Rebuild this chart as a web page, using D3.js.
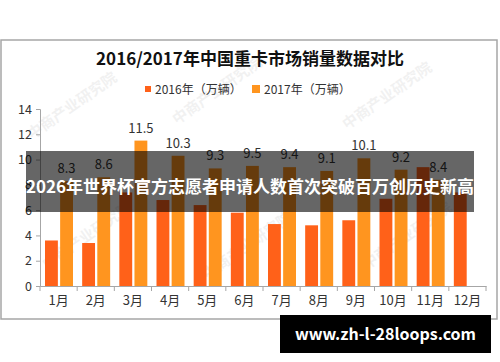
<!DOCTYPE html>
<html>
<head>
<meta charset="utf-8">
<script src="https://cdn.jsdelivr.net/npm/d3@7"></script>
<style>
  body { margin: 0; background: #fff; }
  text { font-family: "Noto Sans CJK SC", "Noto Sans", sans-serif; }
</style>
</head>
<body>
<div id="chart"></div>
<script>
// data
var months = ["1月","2月","3月","4月","5月","6月","7月","8月","9月","10月","11月","12月"];
var sales2016 = [3.6, 3.4, 7.4, 6.8, 6.4, 5.8, 4.9, 4.8, 5.2, 6.9, 9.4, 7.4];
var sales2017 = [8.3, 8.6, 11.5, 10.3, 9.3, 9.5, 9.4, 9.1, 10.1, 9.2, 8.4, null];
var seriesNames = ["2016年（万辆）", "2017年（万辆）"];
var yTicks = [0, 2, 4, 6, 8, 10, 12, 14];

var w = 500, h = 362;
var colors = ["#ff6119", "#ff951f"];

var svg = d3.select("#chart").append("svg")
    .attr("width", w)
    .attr("height", h);

// chart frame
svg.append("rect")
    .attr("x", 1).attr("y", 40)
    .attr("width", 496).attr("height", 279)
    .attr("fill", "#fff")
    .attr("stroke", "#a6a6a6")
    .attr("stroke-width", 1.5);

// faint watermarks
var marks = [[75,110],[220,95],[390,100],[90,240],[250,250],[410,240]];
svg.selectAll("text.wm")
    .data(marks)
    .enter().append("text")
    .attr("class","wm")
    .attr("transform", d => "translate(" + d[0] + "," + d[1] + ") rotate(-35)")
    .attr("text-anchor","middle")
    .attr("font-size", 15)
    .attr("font-weight","bold")
    .attr("fill", "#000")
    .attr("opacity", 0.05)
    .text("中商产业研究院");

svg.append("text")
    .attr("x", 250).attr("y", 65)
    .attr("text-anchor", "middle")
    .attr("font-size", 17)
    .attr("font-weight", "bold")
    .attr("fill", "#111")
    .text("2016/2017年中国重卡市场销量数据对比");

// legend
var legendX = [145, 252];
var lg = svg.selectAll("g.legend")
    .data(seriesNames)
    .enter().append("g")
    .attr("class","legend")
    .attr("transform", (d,i) => "translate(" + legendX[i] + ",89)");
lg.append("rect")
    .attr("x", 0).attr("y", (d,i) => i ? -4 : -3)
    .attr("width", (d,i) => i ? 8 : 6)
    .attr("height", (d,i) => i ? 8 : 6)
    .attr("fill", (d,i) => colors[i]);
lg.append("text")
    .attr("x", (d,i) => i ? 12 : 10)
    .attr("y", 5)
    .attr("font-size", 12)
    .attr("fill", "#333")
    .text(d => d);

var x0 = d3.scaleBand().domain(months).range([40, 486]);
var x1 = d3.scaleBand().domain([0, 1]).range([5, 33]).paddingInner(0.15);
var y = d3.scaleLinear().domain([0, 14]).range([286, 109]);

// y axis
var yAxis = svg.append("g")
    .attr("transform", "translate(40,0)")
    .call(d3.axisLeft(y).tickValues(yTicks).tickSize(4).tickPadding(4));
yAxis.select(".domain").attr("stroke", "#a6a6a6");
yAxis.selectAll(".tick line").attr("stroke", "#a6a6a6");
yAxis.selectAll(".tick text")
    .attr("font-size", 12.5)
    .attr("fill", "#333")
    .style("font-family", "'Noto Sans CJK SC', sans-serif");

// bars
var groups = svg.selectAll("g.month")
    .data(months)
    .enter().append("g")
    .attr("class", "month")
    .attr("transform", d => "translate(" + x0(d) + ",0)");

var series = [sales2016, sales2017];
groups.selectAll("rect")
    .data((d,i) => series.map((s,k) => ({k: k, v: s[i]})).filter(e => e.v != null))
    .enter().append("rect")
    .attr("x", d => x1(d.k))
    .attr("y", d => y(d.v))
    .attr("width", x1.bandwidth())
    .attr("height", d => y(0) - y(d.v))
    .attr("fill", d => colors[d.k]);

// value labels (2017 only)
groups.filter((d,i) => sales2017[i] != null)
    .append("text")
    .attr("x", x1(1) + x1.bandwidth() / 2)
    .attr("y", d => y(sales2017[months.indexOf(d)]) - 8)
    .attr("text-anchor", "middle")
    .attr("font-size", 13)
    .attr("fill", "#333")
    .text(d => sales2017[months.indexOf(d)]);

// x axis
var xAxis = svg.append("g")
    .attr("transform", "translate(0,286)")
    .call(d3.axisBottom(x0).tickSize(0).tickPadding(10));
xAxis.select(".domain").attr("stroke", "#a6a6a6");
xAxis.selectAll(".tick text")
    .attr("font-size", 13)
    .attr("fill", "#333")
    .style("font-family", "'Noto Sans CJK SC', sans-serif");
svg.selectAll("line.xtick")
    .data(months.concat(["end"]))
    .enter().append("line")
    .attr("class", "xtick")
    .attr("x1", (d,i) => 40 + i * x0.step())
    .attr("x2", (d,i) => 40 + i * x0.step())
    .attr("y1", 286).attr("y2", 291)
    .attr("stroke", "#a6a6a6");

// headline banner
svg.append("rect")
    .attr("x", 26).attr("y", 151)
    .attr("width", 448).attr("height", 61)
    .attr("fill", "#000")
    .attr("opacity", 0.6);
svg.append("text")
    .attr("x", 250).attr("y", 193)
    .attr("text-anchor", "middle")
    .attr("font-size", 17)
    .attr("font-weight", "bold")
    .attr("fill", "#fff")
    .text("2026年世界杯官方志愿者申请人数首次突破百万创历史新高");

// site pill
svg.append("rect")
    .attr("x", 280).attr("y", 315)
    .attr("width", 211).attr("height", 38)
    .attr("fill", "#000");
svg.append("text")
    .attr("x", 385.5).attr("y", 340)
    .attr("text-anchor", "middle")
    .attr("font-size", 16)
    .attr("font-weight", "bold")
    .attr("fill", "#fff")
    .text("www.zh-l-28loops.com");
</script>
</body>
</html>
